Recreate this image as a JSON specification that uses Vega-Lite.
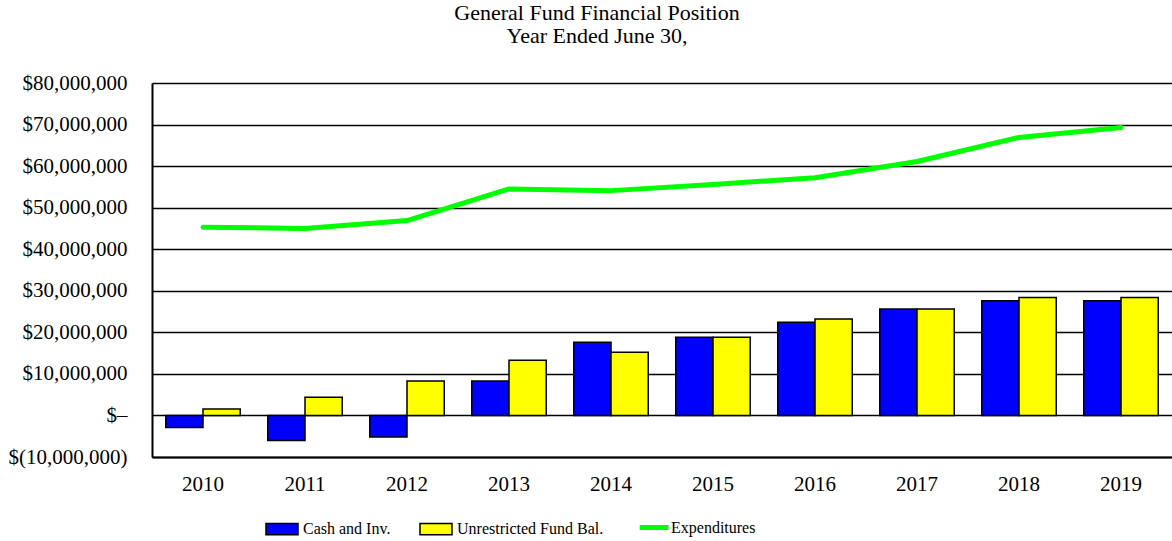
{
  "$schema": "https://vega.github.io/schema/vega-lite/v6.json",
  "width": 1020,
  "height": 374,
  "autosize": {"type": "none"},
  "padding": {"left": 152, "top": 83, "right": 0, "bottom": 84},
  "background": "white",
  "title": {
    "text": ["General Fund Financial Position", "Year Ended June 30,"],
    "font": "Liberation Serif",
    "fontSize": 22,
    "fontWeight": "normal",
    "color": "black",
    "lineHeight": 23,
    "offset": 24,
    "dx": -65
  },
  "config": {
    "view": {"stroke": null},
    "font": "Liberation Serif"
  },
  "data": {
    "values": [
      {"year": "2010", "series": "Cash and Inv.", "value": -2900000},
      {"year": "2010", "series": "Unrestricted Fund Bal.", "value": 1550000},
      {"year": "2010", "series": "Expenditures", "value": 45300000},
      {"year": "2011", "series": "Cash and Inv.", "value": -6000000},
      {"year": "2011", "series": "Unrestricted Fund Bal.", "value": 4400000},
      {"year": "2011", "series": "Expenditures", "value": 45000000},
      {"year": "2012", "series": "Cash and Inv.", "value": -5200000},
      {"year": "2012", "series": "Unrestricted Fund Bal.", "value": 8300000},
      {"year": "2012", "series": "Expenditures", "value": 46900000},
      {"year": "2013", "series": "Cash and Inv.", "value": 8300000},
      {"year": "2013", "series": "Unrestricted Fund Bal.", "value": 13300000},
      {"year": "2013", "series": "Expenditures", "value": 54500000},
      {"year": "2014", "series": "Cash and Inv.", "value": 17600000},
      {"year": "2014", "series": "Unrestricted Fund Bal.", "value": 15200000},
      {"year": "2014", "series": "Expenditures", "value": 54100000},
      {"year": "2015", "series": "Cash and Inv.", "value": 18800000},
      {"year": "2015", "series": "Unrestricted Fund Bal.", "value": 18800000},
      {"year": "2015", "series": "Expenditures", "value": 55600000},
      {"year": "2016", "series": "Cash and Inv.", "value": 22400000},
      {"year": "2016", "series": "Unrestricted Fund Bal.", "value": 23200000},
      {"year": "2016", "series": "Expenditures", "value": 57200000},
      {"year": "2017", "series": "Cash and Inv.", "value": 25600000},
      {"year": "2017", "series": "Unrestricted Fund Bal.", "value": 25600000},
      {"year": "2017", "series": "Expenditures", "value": 61100000},
      {"year": "2018", "series": "Cash and Inv.", "value": 27600000},
      {"year": "2018", "series": "Unrestricted Fund Bal.", "value": 28400000},
      {"year": "2018", "series": "Expenditures", "value": 66900000},
      {"year": "2019", "series": "Cash and Inv.", "value": 27600000},
      {"year": "2019", "series": "Unrestricted Fund Bal.", "value": 28400000},
      {"year": "2019", "series": "Expenditures", "value": 69300000}
    ]
  },
  "encoding": {
    "x": {
      "field": "year",
      "type": "nominal",
      "scale": {"paddingInner": 0.27, "paddingOuter": 0.135},
      "axis": {
        "title": null,
        "labelAngle": 0,
        "labelFont": "Liberation Serif",
        "labelFontSize": 21,
        "labelColor": "black",
        "labelPadding": 16,
        "ticks": false,
        "domainColor": "black",
        "domainWidth": 2,
        "grid": false
      }
    },
    "y": {
      "field": "value",
      "type": "quantitative",
      "scale": {"domain": [-10000000, 80000000], "nice": false, "zero": true},
      "axis": {
        "title": null,
        "values": [-10000000, 0, 10000000, 20000000, 30000000, 40000000, 50000000, 60000000, 70000000, 80000000],
        "labelExpr": "datum.value == 0 ? '$–' : (datum.value < 0 ? '$(' + format(-datum.value, ',') + ')' : '$' + format(datum.value, ','))",
        "labelFont": "Liberation Serif",
        "labelFontSize": 21,
        "labelColor": "black",
        "labelPadding": 25,
        "ticks": false,
        "domainColor": "black",
        "domainWidth": 2,
        "grid": true,
        "gridColor": "black",
        "gridWidth": 1.5,
        "gridOpacity": 1
      }
    }
  },
  "layer": [
    {
      "transform": [{"filter": "datum.series !== 'Expenditures'"}],
      "mark": {"type": "bar", "stroke": "black", "strokeWidth": 1.5, "opacity": 1},
      "encoding": {
        "xOffset": {
          "field": "series",
          "type": "nominal",
          "scale": {"domain": ["Cash and Inv.", "Unrestricted Fund Bal."], "paddingInner": 0, "paddingOuter": 0}
        },
        "fill": {
          "field": "series",
          "type": "nominal",
          "scale": {
            "domain": ["Cash and Inv.", "Unrestricted Fund Bal."],
            "range": ["#0000ff", "#ffff00"]
          },
          "legend": {
            "title": null,
            "orient": "none",
            "direction": "horizontal",
            "legendX": 121,
            "legendY": 437,
            "labelFont": "Liberation Serif",
            "labelFontSize": 16,
            "labelColor": "black",
            "labelOffset": 12,
            "columnPadding": 26,
            "symbolSize": 256,
            "symbolType": "M-2,-0.7H2V0.7H-2Z",
            "symbolStrokeColor": "black",
            "symbolStrokeWidth": 1.5,
            "symbolOpacity": 1,
            "labelLimit": 0
          }
        }
      }
    },
    {
      "transform": [{"filter": "datum.series === 'Expenditures'"}],
      "mark": {"type": "line", "strokeWidth": 5, "strokeCap": "round", "strokeJoin": "round"},
      "encoding": {
        "stroke": {
          "field": "series",
          "type": "nominal",
          "scale": {"domain": ["Expenditures"], "range": ["#00ff00"]},
          "legend": {
            "title": null,
            "orient": "none",
            "direction": "horizontal",
            "legendX": 486,
            "legendY": 434,
            "labelFont": "Liberation Serif",
            "labelFontSize": 16,
            "labelColor": "black",
            "labelOffset": 12,
            "symbolSize": 256,
            "symbolType": "M-1.1,0H2.5",
            "symbolStrokeWidth": 5,
            "symbolOpacity": 1,
            "labelLimit": 0
          }
        }
      }
    }
  ]
}
